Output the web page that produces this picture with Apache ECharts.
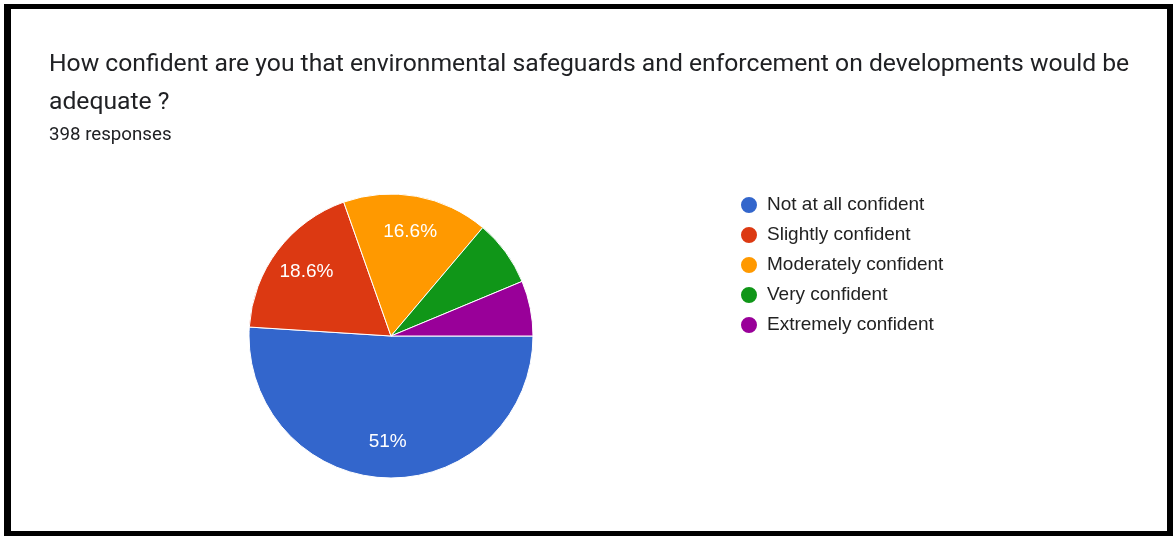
<!DOCTYPE html>
<html>
<head>
<meta charset="utf-8">
<script src="https://cdn.jsdelivr.net/npm/echarts@6/dist/echarts.min.js"></script>
<style>
  html, body { margin: 0; padding: 0; background: #fff; }
  #frame {
    position: absolute; left: 4px; top: 4px; right: 0; bottom: 0;
    border-style: solid; border-color: #000;
    border-width: 5px 6px 5px 7px;
    box-sizing: border-box;
  }
  #chart { position: absolute; left: 0; top: 0; width: 1173px; height: 536px; }
</style>
</head>
<body>
<div id="chart"></div>
<div id="frame"></div>
<script>
// Survey answers and response counts (398 responses in total)
const categories = [
  'Not at all confident',
  'Slightly confident',
  'Moderately confident',
  'Very confident',
  'Extremely confident'
];
const counts = [203, 74, 66, 30, 25];
const colors = ['#3366cc', '#dc3912', '#ff9900', '#109618', '#990099'];

const titleLines = [
  'How confident are you that environmental safeguards and enforcement on developments would be',
  'adequate ?'
];
const totalResponses = counts.reduce((a, b) => a + b, 0);

const pieData = categories.map((name, i) => ({ name, value: counts[i] }));

// Percentages shown on slices large enough to hold a label
function pctLabel(p) {
  if (p.percent < 10) return '';
  const v = Math.round(p.percent * 10) / 10;
  return (Number.isInteger(v) ? v.toFixed(0) : v.toFixed(1)) + '%';
}

const chart = echarts.init(document.getElementById('chart'), null, { renderer: 'canvas' });
chart.setOption({
  animation: false,
  color: colors,
  title: {
    left: 44,
    top: 41,
    text: titleLines.join('\n'),
    subtext: totalResponses + ' responses',
    itemGap: 3,
    textStyle: {
      fontFamily: 'Roboto', fontSize: 24.7, fontWeight: 'normal',
      color: '#202124', lineHeight: 38
    },
    subtextStyle: {
      fontFamily: 'Roboto', fontSize: 18.7, color: '#202124', lineHeight: 20
    }
  },
  legend: {
    orient: 'vertical',
    left: 734,
    top: 190,
    icon: 'circle',
    itemWidth: 26,
    itemHeight: 18,
    itemGap: 10,
    data: categories,
    textStyle: {
      fontFamily: 'Arial, Liberation Sans', fontSize: 19, color: '#222222', lineHeight: 18
    }
  },
  series: [
    {
      type: 'pie',
      center: [391, 336],
      radius: [0, 142],
      startAngle: 0,
      clockwise: true,
      data: pieData,
      label: { show: false },
      labelLine: { show: false },
      itemStyle: { borderColor: '#ffffff', borderWidth: 1 },
      emphasis: { disabled: true }
    },
    {
      // label ring: places slice percentages toward the rim
      type: 'pie',
      center: [391, 336],
      radius: [64, 142],
      startAngle: 0,
      clockwise: true,
      silent: true,
      data: pieData,
      itemStyle: { color: 'rgba(0,0,0,0)', borderWidth: 0 },
      labelLine: { show: false },
      label: {
        show: true,
        position: 'inside',
        formatter: pctLabel,
        color: '#ffffff',
        fontFamily: 'Arial, Liberation Sans',
        fontSize: 19
      },
      emphasis: { disabled: true }
    }
  ]
});
</script>
</body>
</html>
